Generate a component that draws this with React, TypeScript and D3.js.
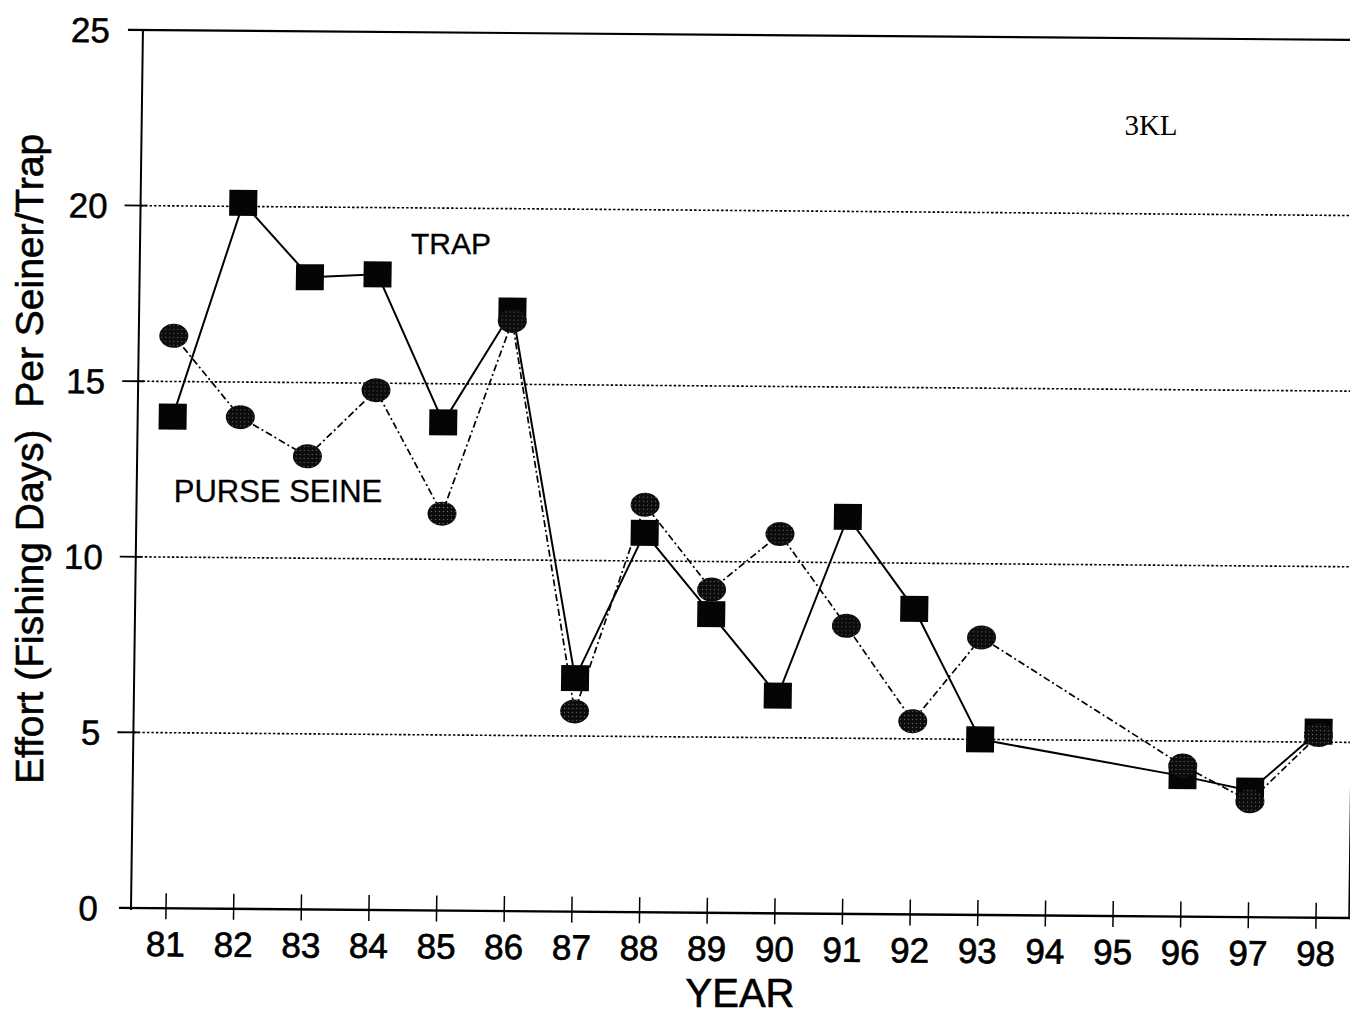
import React from "react";
import * as d3 from "d3";

const YEARS = ["81", "82", "83", "84", "85", "86", "87", "88", "89", "90", "91", "92", "93", "94", "95", "96", "97", "98"];
const TRAP: (number | null)[] = [14.0, 20.1, 18.0, 18.1, 13.9, 17.1, 6.65, 10.8, 8.5, 6.2, 11.3, 8.7, 5.0, null, null, 4.0, 3.6, 5.3];
const SEINE: (number | null)[] = [16.3, 14.0, 12.9, 14.8, 11.3, 16.8, 5.7, 11.6, 9.2, 10.8, 8.2, 5.5, 7.9, null, null, 4.3, 3.3, 5.2];
const Y_TICKS = [0, 5, 10, 15, 20, 25];
const GRID_VALUES = [5, 10, 15, 20];

const W = 1350;
const H = 1016;
const LEFT = 131;
const RIGHT = 1360;
const Y0 = 913;
const Y25 = 35;

const SANS = "'Liberation Sans', Arial, Helvetica, sans-serif";
const SERIF = "'Liberation Serif', 'Times New Roman', serif";

export default function App() {
  const x = d3.scalePoint<string>().domain(YEARS).range([166, 1316]);
  const y = d3.scaleLinear().domain([0, 25]).range([Y0, Y25]);

  const trapPts = YEARS.map((yr, i) => ({ yr, v: TRAP[i] })).filter((d) => d.v != null) as { yr: string; v: number }[];
  const seinePts = YEARS.map((yr, i) => ({ yr, v: SEINE[i] })).filter((d) => d.v != null) as { yr: string; v: number }[];

  const line = d3
    .line<{ yr: string; v: number }>()
    .x((d) => x(d.yr) as number)
    .y((d) => y(d.v));

  // slight skew of the scanned page
  const skew = `matrix(1, 0.0082, -0.0136, 1, ${(0.0136 * Y0).toFixed(2)}, ${(-0.0082 * 740).toFixed(2)})`;

  return (
    <svg
      width={W}
      height={H}
      viewBox={`0 0 ${W} ${H}`}
      style={{ position: "absolute", left: 0, top: 0, background: "#fff" }}
    >
      <defs>
        <pattern id="stip" width="4" height="4" patternUnits="userSpaceOnUse">
          <rect width="4" height="4" fill="#0c0c0c" />
          <circle cx="2" cy="2" r="0.6" fill="#777" />
        </pattern>
      </defs>
      <rect width={W} height={H} fill="#fff" />
      <g transform={skew}>
        {/* dotted gridlines */}
        {GRID_VALUES.map((v) => (
          <line
            key={"g" + v}
            x1={LEFT}
            x2={RIGHT}
            y1={y(v)}
            y2={y(v)}
            stroke="#000"
            strokeWidth={1.6}
            strokeDasharray="2.5,2"
          />
        ))}
        {/* left ticks */}
        {GRID_VALUES.map((v) => (
          <line key={"t" + v} x1={LEFT - 16} x2={LEFT + 6} y1={y(v)} y2={y(v)} stroke="#000" strokeWidth={1.8} />
        ))}
        {/* top line at 25 */}
        <line x1={LEFT - 15} x2={RIGHT} y1={y(25)} y2={y(25)} stroke="#000" strokeWidth={2.2} />
        {/* left axis */}
        <line x1={LEFT} x2={LEFT} y1={y(25)} y2={y(0) + 2} stroke="#000" strokeWidth={2} />
        {/* x axis */}
        <line x1={LEFT - 12} x2={RIGHT} y1={y(0)} y2={y(0)} stroke="#000" strokeWidth={2.4} />
        {/* right edge line */}
        <line x1={1349} x2={1349} y1={y(4.2)} y2={y(0)} stroke="#000" strokeWidth={1.6} />
        {/* x ticks */}
        {YEARS.map((yr) => (
          <g key={"xt" + yr}>
            <line x1={x(yr)} x2={x(yr)} y1={Y0 - 15} y2={Y0 + 11} stroke="#000" strokeWidth={1.5} />
            <text
              x={x(yr)}
              y={Y0 + 48}
              textAnchor="middle"
              fontFamily={SANS}
              fontSize={35}
              fill="#000"
              stroke="#000"
              strokeWidth={0.7}
            >
              {yr}
            </text>
          </g>
        ))}
        {/* y tick labels */}
        {Y_TICKS.map((v) => (
          <text
            key={"yl" + v}
            x={LEFT - 33}
            y={y(v)}
            dy="0.36em"
            textAnchor="end"
            fontFamily={SANS}
            fontSize={35}
            fill="#000"
            stroke="#000"
            strokeWidth={0.5}
          >
            {v}
          </text>
        ))}
        {/* series lines */}
        <path d={line(trapPts) ?? ""} fill="none" stroke="#000" strokeWidth={2} />
        <path d={line(seinePts) ?? ""} fill="none" stroke="#000" strokeWidth={1.7} strokeDasharray="7,3,2,3" />
        {/* trap squares */}
        {trapPts.map((d) => (
          <rect
            key={"sq" + d.yr}
            x={(x(d.yr) as number) - 14}
            y={y(d.v) - 13}
            width={28}
            height={26}
            fill="#050505"
          />
        ))}
        {/* seine circles */}
        {seinePts.map((d) => (
          <ellipse
            key={"ci" + d.yr}
            cx={x(d.yr) as number}
            cy={y(d.v)}
            rx={14.5}
            ry={12}
            fill="url(#stip)"
          />
        ))}
      </g>
      {/* annotations */}
      <text x={451} y={254} textAnchor="middle" fontFamily={SANS} fontSize={30} fill="#000" stroke="#000" strokeWidth={0.3}>
        TRAP
      </text>
      <text x={278} y={502} textAnchor="middle" fontFamily={SANS} fontSize={31} fill="#000" stroke="#000" strokeWidth={0.3}>
        PURSE SEINE
      </text>
      <text x={1151} y={135} textAnchor="middle" fontFamily={SERIF} fontSize={29} fill="#000">
        3KL
      </text>
      <text x={740} y={1007} textAnchor="middle" fontFamily={SANS} fontSize={40} fill="#000" stroke="#000" strokeWidth={0.6}>
        YEAR
      </text>
      <text
        transform="translate(43, 459) rotate(-90)"
        textAnchor="middle"
        fontFamily={SANS}
        fontSize={39}
        fill="#000"
        stroke="#000"
        strokeWidth={0.6}
      >
        {"Effort (Fishing Days)\u00A0\u00A0Per Seiner/Trap"}
      </text>
    </svg>
  );
}
